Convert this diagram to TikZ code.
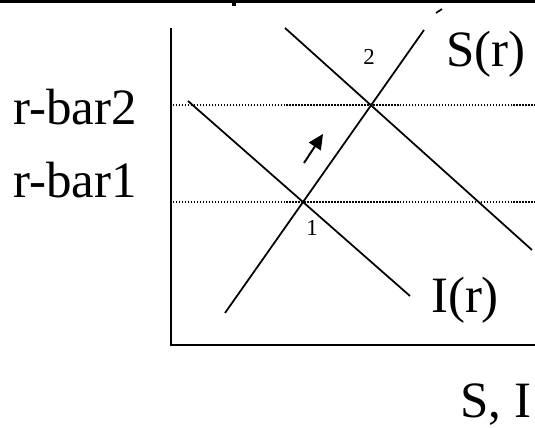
\documentclass[tikz,border=0pt]{standalone}
\usepackage{fontspec}
\setmainfont{Liberation Serif}
\usetikzlibrary{arrows.meta,positioning}
\tikzset{
 axis/.style={line width=1.2pt, draw=black},
 curve/.style={line width=1pt, draw=black},
 level/.style={line width=0.6pt, draw=black, dash pattern=on 0.85pt off 0.85pt},
 shiftarrow/.style={-{Triangle[length=0.3cm,width=0.28cm]}, line width=1.1pt},
 biglabel/.style={inner sep=0pt, font=\fontsize{29}{31}\selectfont},
 eqlabel/.style={inner sep=0pt, font=\fontsize{13}{15}\selectfont}
}
\begin{document}
\begin{tikzpicture}[x=0.02cm,y=0.02cm]
\useasboundingbox (0,0) rectangle (535,428);
% top rule left over from the slide
\fill (0,425) rectangle (535,428);
\fill (232,422) rectangle (236,425);
\draw[curve] (436,415) -- (442,419);
% axes
\coordinate (origin) at (171,83);
\coordinate (ytop) at (171,400);
\coordinate (xend) at (535,83);
\draw[axis] (ytop) -- (origin) -- (xend);
% equilibria
\coordinate (eq1) at (303,226);
\coordinate (eq2) at (371,323);
\coordinate (lev1) at (173,226);
\coordinate (lev1e) at (535,226);
\coordinate (lev2) at (173,323);
\coordinate (lev2e) at (535,323);
\draw[level] (lev2) -- (lev2e);
\draw[level] (lev1) -- (lev1e);
% saving and investment
\coordinate (sbot) at (225,115);
\coordinate (stop) at (424,398);
\coordinate (ione) at (188,327);
\coordinate (ionee) at (410,132);
\coordinate (itwo) at (285,400);
\coordinate (itwoe) at (532,178);
\draw[curve] (sbot) -- (stop);
\draw[curve] (ione) -- (ionee);
\draw[curve] (itwo) -- (itwoe);
% shift
\coordinate (shfrom) at (304,265);
\coordinate (shto) at (323,294);
\draw[shiftarrow] (shfrom) -- (shto);
% labels
\node[biglabel] (rbar2) at (75,321) {r-bar2};
\node[biglabel] (rbar1) at (75,248) {r-bar1};
\node[biglabel] (slab) at (486,374) {S(r)};
\node[biglabel] (ilab) at (465,128) {I(r)};
\node[biglabel] (axlab) at (496,23) {S, I};
\node[eqlabel] (n2) at (369,371) {2};
\node[eqlabel] (n1) at (312,200) {1};
\end{tikzpicture}
\end{document}
